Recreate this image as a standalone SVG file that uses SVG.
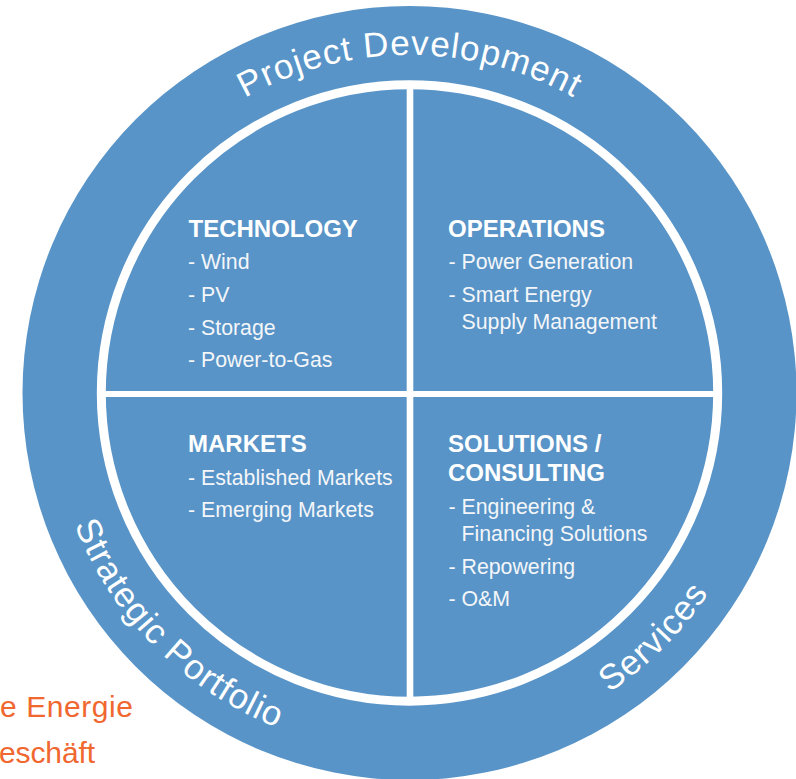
<svg xmlns="http://www.w3.org/2000/svg" width="796" height="779" viewBox="0 0 796 779">
  <defs>
    <style>
      .ring-label { font-family: "Liberation Sans", Arial, sans-serif; font-size: 35px; fill: #ffffff; letter-spacing: 1px; }
      .title { font-family: "Liberation Sans", Arial, sans-serif; font-size: 24px; font-weight: bold; fill: #ffffff; }
      .item { font-family: "Liberation Sans", Arial, sans-serif; font-size: 21.3px; fill: #f4f6f9; }
      .orange { font-family: "Liberation Sans", Arial, sans-serif; font-size: 30px; fill: #f0672f; }
      .divider { stroke: #ffffff; fill: none; }
    </style>
    <path id="arcTop" d="M 71.5,393 A 338 338 0 0 1 747.5,393"/>
    <path id="arcBottom" d="M 49.5,393 A 360 360 0 0 0 769.5,393"/>
  </defs>

  <rect width="796" height="779" fill="#ffffff"/>

  <g id="outer-ring">
    <circle cx="409.5" cy="393" r="387" fill="#5894c7"/>
    <circle class="divider" cx="409.5" cy="393" r="308.2" stroke-width="9"/>
  </g>

  <g id="connectors">
    <line class="divider" x1="410" y1="88" x2="410" y2="698" stroke-width="6.6"/>
    <line class="divider" x1="104" y1="394" x2="715" y2="394" stroke-width="6"/>
  </g>

  <g id="ring-project-development">
    <text class="ring-label"><textPath href="#arcTop" startOffset="50%" text-anchor="middle">Project Development</textPath></text>
  </g>
  <g id="ring-strategic-portfolio">
    <text class="ring-label"><textPath href="#arcBottom" startOffset="25%" text-anchor="middle">Strategic Portfolio</textPath></text>
  </g>
  <g id="ring-services">
    <text class="ring-label"><textPath href="#arcBottom" startOffset="75%" text-anchor="middle">Services</textPath></text>
  </g>

  <g id="technology">
    <text class="title" x="188.5" y="237">TECHNOLOGY</text>
    <text class="item" x="188" y="269">- Wind</text>
    <text class="item" x="188" y="302">- PV</text>
    <text class="item" x="188" y="334.5">- Storage</text>
    <text class="item" x="188" y="367">- Power-to-Gas</text>
  </g>

  <g id="operations">
    <text class="title" x="448" y="237">OPERATIONS</text>
    <text class="item" x="448.5" y="269">- Power Generation</text>
    <text class="item" x="448.5" y="302">- Smart Energy</text>
    <text class="item" x="461.5" y="328.5">Supply Management</text>
  </g>

  <g id="markets">
    <text class="title" x="188" y="452">MARKETS</text>
    <text class="item" x="188" y="484.5">- Established Markets</text>
    <text class="item" x="188" y="517">- Emerging Markets</text>
  </g>

  <g id="solutions-consulting">
    <text class="title" x="448" y="452">SOLUTIONS /</text>
    <text class="title" x="448" y="481">CONSULTING</text>
    <text class="item" x="448.5" y="514">- Engineering &amp;</text>
    <text class="item" x="461.5" y="541">Financing Solutions</text>
    <text class="item" x="448.5" y="573.5">- Repowering</text>
    <text class="item" x="448.5" y="605.5">- O&amp;M</text>
  </g>

  <g id="orange-caption">
    <text class="orange" x="0" y="717" textLength="133" lengthAdjust="spacing">e Energie</text>
    <text class="orange" x="-1" y="763" textLength="96" lengthAdjust="spacing">eschäft</text>
  </g>
</svg>
